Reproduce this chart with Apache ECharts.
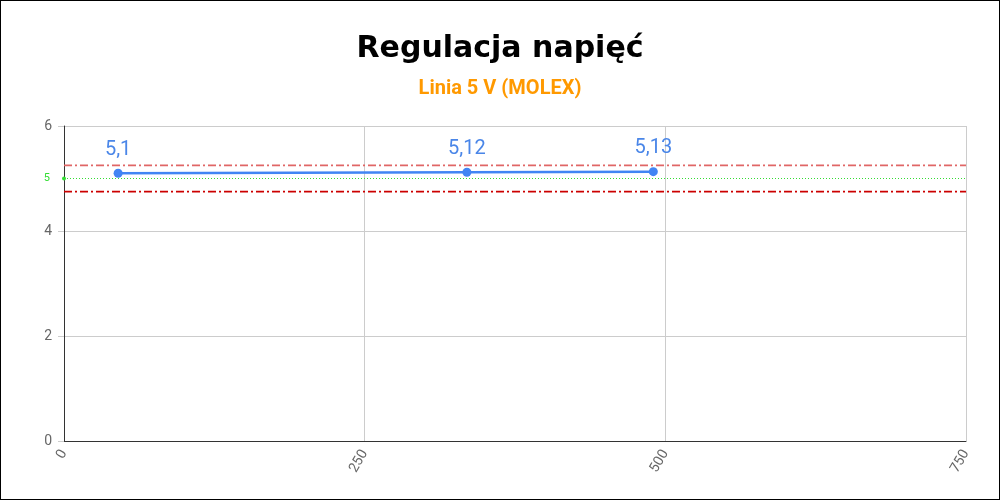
<!DOCTYPE html>
<html>
<head>
<meta charset="utf-8">
<script src="https://cdn.jsdelivr.net/npm/echarts@6/dist/echarts.min.js"></script>
<style>
html,body{margin:0;padding:0;background:#fff;}
#c{width:998px;height:498px;border:1px solid #000;}
</style>
</head>
<body>
<div id="c"></div>
<script>
var titleText = "Regulacja napięć";
var subtitleText = "Linia 5 V (MOLEX)";
var xValues = [45, 335, 490];
var yValues = [5.1, 5.12, 5.13];
var nominal = 5;
var upperLimit = 5.25;
var lowerLimit = 4.75;
var xTicks = [0, 250, 500, 750];
var yTicks = [0, 2, 4, 6];

function fmt(v){ return String(v).replace('.', ','); }

var xMin = xTicks[0], xMax = xTicks[xTicks.length-1];

function limitSeries(value, color){
  return {
    type: 'line',
    data: [[xMin, value], [xMax, value]],
    symbol: 'none',
    silent: true,
    z: 3,
    color: color,
    lineStyle: {color: color, width: 1.6, type: [8,3,2,3]}
  };
}

var chart = echarts.init(document.getElementById('c'));
chart.setOption({
  animation: false,
  title: {
    text: titleText,
    subtext: subtitleText,
    left: 'center',
    top: 28,
    itemGap: 15,
    textStyle: {fontFamily: 'DejaVu Sans', fontWeight: 'bold', fontSize: 30, color: '#000'},
    subtextStyle: {fontFamily: 'Roboto', fontWeight: 'bold', fontSize: 20, color: '#ff9900'}
  },
  grid: {left: 63, right: 33, top: 125, bottom: 58, containLabel: false},
  xAxis: {
    type: 'value',
    min: xMin, max: xMax, interval: 250,
    axisLine: {show: true, lineStyle: {color: '#333', width: 1}},
    axisTick: {show: false},
    axisLabel: {rotate: 60, color: '#666', fontSize: 14, fontFamily: 'Roboto', margin: 10},
    splitLine: {show: true, lineStyle: {color: '#ccc'}}
  },
  yAxis: {
    type: 'value',
    min: yTicks[0], max: yTicks[yTicks.length-1], interval: 2,
    axisLine: {show: true, lineStyle: {color: '#333', width: 1}},
    axisTick: {show: true, length: 6, lineStyle: {color: '#ccc'}},
    axisLabel: {color: '#666', fontSize: 14, fontFamily: 'Roboto', margin: 12},
    splitLine: {show: true, lineStyle: {color: '#ccc'}}
  },
  series: [
    limitSeries(upperLimit, '#e06666'),
    limitSeries(lowerLimit, '#cc0000'),
    {
      type: 'line',
      data: [],
      color: '#33dd33',
      markLine: {
        silent: true,
        animation: false,
        symbol: ['circle','none'], symbolSize: 4,
        itemStyle: {color: '#33dd33'},
        lineStyle: {color: '#33dd33', type: [1,2], width: 1},
        label: {show: true, position: 'start', formatter: fmt(nominal), color: '#33dd33', fontSize: 11, fontFamily: 'Roboto', distance: 14},
        data: [{yAxis: nominal}]
      }
    },
    {
      type: 'line',
      data: xValues.map(function(x, i){ return [x, yValues[i]]; }),
      symbol: 'circle',
      symbolSize: 9,
      z: 5,
      lineStyle: {color: '#4285f4', width: 2.5},
      itemStyle: {color: '#4285f4'},
      label: {
        show: true, position: 'top', distance: 9,
        color: '#4a86e8', fontSize: 20, fontFamily: 'Roboto',
        formatter: function(p){ return fmt(p.value[1]); }
      }
    }
  ]
});
</script>
</body>
</html>
